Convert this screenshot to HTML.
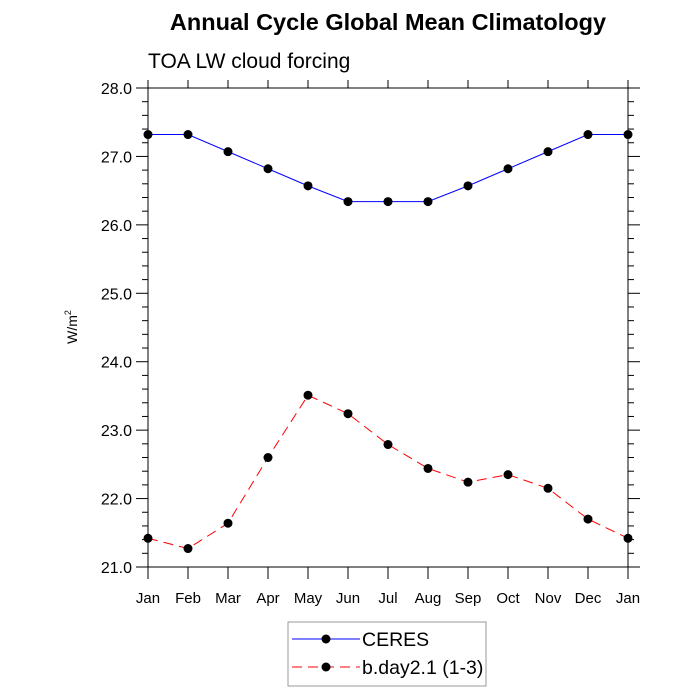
<!DOCTYPE html>
<html><head><style>body{margin:0;background:#fff}svg{display:block}text{font-family:"Liberation Sans",Arial,sans-serif}</style></head>
<body>
<svg id="chart" width="700" height="700">
<text x="388" y="30" font-size="23.5" font-weight="bold" text-anchor="middle">Annual Cycle Global Mean Climatology</text>
<text x="148" y="68" font-size="21">TOA LW cloud forcing</text>
<text transform="translate(77,327) rotate(-90)" font-size="14" text-anchor="middle">W/m<tspan dy="-6" font-size="9">2</tspan></text>
<g id="axes"></g><g id="series"></g>
<g>
<rect x="288" y="622" width="198" height="64" fill="#fff" stroke="#999" stroke-width="1"/>
<line x1="292" y1="639" x2="360" y2="639" stroke="#0000ff" stroke-width="1"/>
<circle cx="326" cy="639" r="4.5" fill="#000"/>
<text x="362" y="646" font-size="19.5">CERES</text>
<line x1="292" y1="667" x2="360" y2="667" stroke="#ff0000" stroke-width="1" stroke-dasharray="10,6"/>
<circle cx="326" cy="667" r="4.5" fill="#000"/>
<text x="362" y="674" font-size="19.5">b.day2.1 (1-3)</text>
</g>
</svg>
<script>
const months=["Jan","Feb","Mar","Apr","May","Jun","Jul","Aug","Sep","Oct","Nov","Dec","Jan"];
const ceres=[27.32,27.32,27.07,26.82,26.57,26.34,26.34,26.34,26.57,26.82,27.07,27.32,27.32];
const model=[21.42,21.27,21.64,22.60,23.51,23.24,22.79,22.44,22.24,22.35,22.15,21.70,21.42];
const yTicks=[21,22,23,24,25,26,27,28];
const X0=148,X1=628,Y0=88,Y1=567,YMIN=21,YMAX=28;
const xs=i=>X0+(X1-X0)*i/(months.length-1);
const ys=v=>Y1-(Y1-Y0)*(v-YMIN)/(YMAX-YMIN);
const NS="http://www.w3.org/2000/svg";
function mk(t,a,p){const e=document.createElementNS(NS,t);for(const k in a)e.setAttribute(k,a[k]);p.appendChild(e);return e;}
const ax=document.getElementById('axes');
const fr=mk('rect',{x:X0,y:Y0,width:X1-X0,height:Y1-Y0,fill:'none',stroke:'#000','stroke-width':1},ax);


months.forEach((m,i)=>{const x=xs(i);
mk('line',{x1:x,y1:Y1,x2:x,y2:Y1+12,stroke:'#000'},ax);
mk('line',{x1:x,y1:Y0,x2:x,y2:Y0-8,stroke:'#000'},ax);
const t=mk('text',{x:x,y:603,'font-size':15,'text-anchor':'middle'},ax);t.textContent=m;

});
for(let v=YMIN;v<=YMAX+1e-9;v+=0.2){const y=ys(v);const major=Math.abs(v-Math.round(v))<1e-6;const L=major?12:6;
mk('line',{x1:X0,y1:y,x2:X0-L,y2:y,stroke:'#000'},ax);
mk('line',{x1:X1,y1:y,x2:X1+L,y2:y,stroke:'#000'},ax);}
yTicks.forEach(v=>{const t=mk('text',{x:X0-16,y:ys(v)+6,'font-size':16,'text-anchor':'end'},ax);t.textContent=v.toFixed(1);

});
const sg=document.getElementById('series');
function draw(arr,color,dash,name){const p=mk('polyline',{points:arr.map((v,i)=>xs(i)+','+ys(v)).join(' '),fill:'none',stroke:color,'stroke-width':1,'stroke-dasharray':dash},sg);


arr.forEach((v,i)=>{const c=mk('circle',{cx:xs(i),cy:ys(v),r:4.5,fill:'#000'},sg);

});}
draw(ceres,'#0000ff','none','ceres');
draw(model,'#ff0000','10,6','model');
</script>
</body></html>
